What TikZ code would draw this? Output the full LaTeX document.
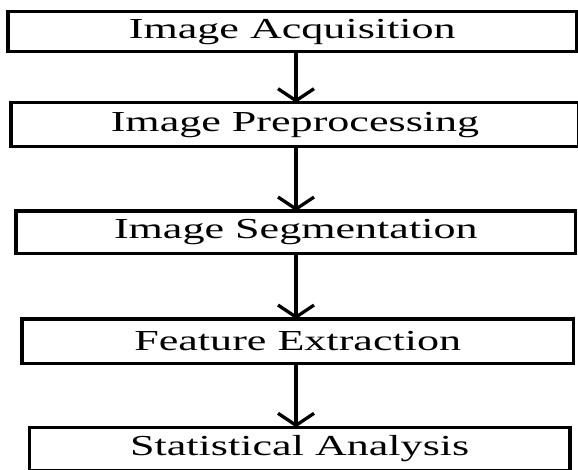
\documentclass[tikz,border=0pt]{standalone}
\usepackage{fontspec}
\usepackage{graphicx}
\setmainfont{Liberation Serif}
\usetikzlibrary{arrows.meta}
% text in the boxes is set wider than it is tall
\newcommand{\widelabel}[1]{\scalebox{1.52}[1]{#1}}

\begin{document}
\begin{tikzpicture}[x=1bp,y=-1bp,
  stage/.style={draw=black,line width=3.6bp,rectangle,inner sep=0pt,outer sep=0pt,
    font=\fontsize{29bp}{34bp}\selectfont},
  flow/.style={black,line width=3.3bp,-{Straight Barb[length=12bp,width=36bp]}}]
\useasboundingbox (0,0) rectangle (578,470);
\coordinate (axis) at (296,0);
\node[stage,minimum width=569bp,minimum height=40bp] (acq) at (292.3,31.7) {\widelabel{Image Acquisition}};
\node[stage,minimum width=568bp,minimum height=44bp] (pre) at (295,124.7) {\widelabel{Image Preprocessing}};
\node[stage,minimum width=559bp,minimum height=42.3bp] (seg) at (295.8,232.2) {\widelabel{Image Segmentation}};
\node[stage,minimum width=551.3bp,minimum height=44.3bp] (feat) at (297.7,341.2) {\widelabel{Feature Extraction}};
\node[stage,minimum width=540.7bp,minimum height=43.4bp] (stat) at (299.7,449) {\widelabel{Statistical Analysis}};
\draw[flow] (acq.south -| axis) -- (pre.north -| axis);
\draw[flow] (pre.south -| axis) -- (seg.north -| axis);
\draw[flow] (seg.south -| axis) -- (feat.north -| axis);
\draw[flow] (feat.south -| axis) -- (stat.north -| axis);
\end{tikzpicture}
\end{document}
